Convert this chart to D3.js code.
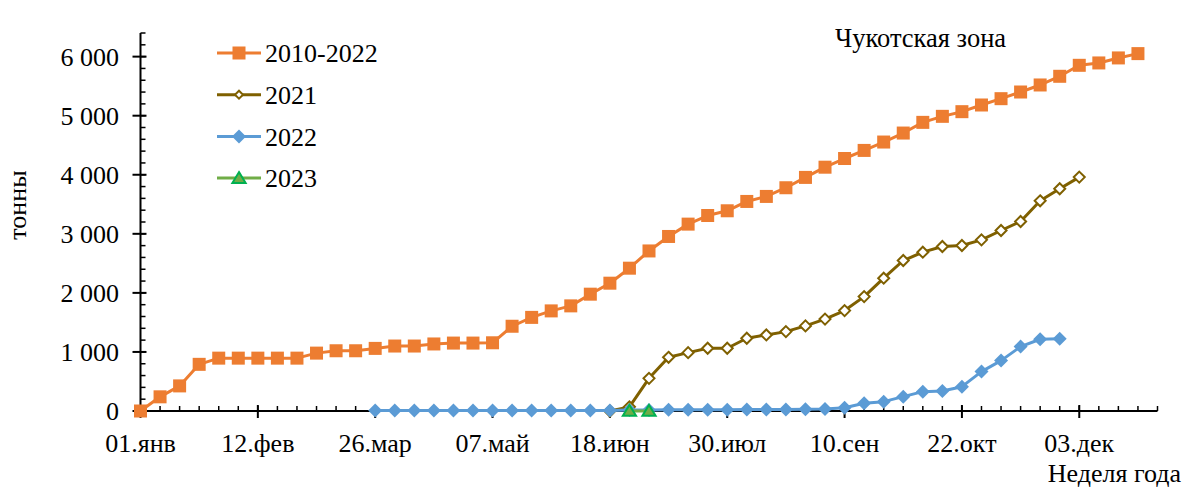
<!DOCTYPE html>
<html>
<head>
<meta charset="utf-8">
<script src="https://cdn.jsdelivr.net/npm/d3@7"></script>
<style>
  body { margin: 0; background: #fff; }
  svg { display: block; font-family: "Liberation Serif", "Times New Roman", serif; }
</style>
</head>
<body>
<div class="chart"></div>
<script>
// week labels under major ticks (every 6 weeks)
const tickLabels = ["01.янв", "12.фев", "26.мар", "07.май", "18.июн", "30.июл", "10.сен", "22.окт", "03.дек"];

// 2010-2022 average, weeks 0..51
const avg = [0, 240, 425, 790, 895, 895, 895, 895, 895, 980, 1020, 1020, 1060, 1100, 1100, 1135, 1150, 1150, 1155,
  1435, 1585, 1695, 1780, 1978, 2164, 2418, 2710, 2955, 3164, 3310, 3390, 3548, 3633, 3780, 3955, 4128, 4275,
  4412, 4554, 4706, 4887, 4989, 5068, 5181, 5288, 5401, 5520, 5667, 5853, 5893, 5978, 6051];

// 2021, starting at week 24
const start2021 = 24;
const y2021 = [0, 70, 553, 909, 988, 1062, 1062, 1232, 1288, 1344, 1441, 1556, 1700, 1937, 2249, 2548, 2689,
  2785, 2802, 2898, 3056, 3209, 3559, 3763, 3960];

// 2022, starting at week 12
const start2022 = 12;
const y2022 = [10, 10, 10, 10, 10, 10, 10, 10, 10, 10, 10, 10, 10, 15, 15, 20, 20, 20, 20, 25, 25, 25, 30, 34,
  56, 130, 158, 243, 328, 339, 412, 667, 853, 1090, 1215, 1225];

// 2023, starting at week 25
const start2023 = 25;
const y2023 = [0, 0];

const W = 1188, H = 489;

const svg = d3.select(".chart").append("svg")
    .attr("width", W)
    .attr("height", H);

const x = d3.scaleLinear().domain([0, 52]).range([140.5, 1157.5]);
const y = d3.scaleLinear().domain([0, 6400]).range([411, 33]);

const fmt = d3.formatLocale({decimal: ",", thousands: " ", grouping: [3], currency: ["", ""]}).format(",.0f");

// y axis: minor ticks inward, major ticks crossing
const gy = svg.append("g");
gy.append("line").attr("x1", x(0)).attr("x2", x(0)).attr("y1", y(0)).attr("y2", y(6400))
    .attr("stroke", "#000").attr("stroke-width", 2);
gy.selectAll(".minor").data(d3.range(200, 6401, 200)).join("line")
    .attr("x1", x(0)).attr("x2", x(0) + 5).attr("y1", d => y(d)).attr("y2", d => y(d))
    .attr("stroke", "#000").attr("stroke-width", 1.5);
gy.selectAll(".major").data(d3.range(0, 6001, 1000)).join("line")
    .attr("x1", x(0) - 8).attr("x2", x(0) + 6).attr("y1", d => y(d)).attr("y2", d => y(d))
    .attr("stroke", "#000").attr("stroke-width", 2);
gy.selectAll("text").data(d3.range(0, 6001, 1000)).join("text")
    .attr("x", 119).attr("y", d => y(d)).attr("dy", "0.35em")
    .attr("text-anchor", "end").attr("font-size", 26).text(d => fmt(d));

// x axis
const gx = svg.append("g");
gx.append("line").attr("x1", x(0)).attr("x2", x(52)).attr("y1", y(0)).attr("y2", y(0))
    .attr("stroke", "#000").attr("stroke-width", 2);
gx.selectAll(".minor").data(d3.range(1, 53)).join("line")
    .attr("x1", d => x(d)).attr("x2", d => x(d)).attr("y1", y(0)).attr("y2", y(0) - 5)
    .attr("stroke", "#000").attr("stroke-width", 1.5);
gx.selectAll(".major").data(d3.range(0, 49, 6)).join("line")
    .attr("x1", d => x(d)).attr("x2", d => x(d)).attr("y1", y(0) - 6).attr("y2", y(0) + 7)
    .attr("stroke", "#000").attr("stroke-width", 2);
gx.selectAll("text").data(tickLabels).join("text")
    .attr("x", (d, i) => x(i * 6)).attr("y", 452)
    .attr("text-anchor", "middle").attr("font-size", 26).text(d => d);

svg.append("text").attr("x", 1181).attr("y", 482).attr("text-anchor", "end")
    .attr("font-size", 26).text("Неделя года");
svg.append("text").attr("transform", "translate(26,205) rotate(-90)").attr("text-anchor", "middle")
    .attr("font-size", 26).text("тонны");
svg.append("text").attr("x", 835).attr("y", 47).attr("font-size", 26.5).text("Чукотская зона");

const line = d3.line().x(d => x(d[0])).y(d => y(d[1]));
const toPts = (arr, start) => arr.map((v, i) => [start + i, v]);

const diamond = s => `M0,${-s}L${s},0L0,${s}L${-s},0Z`;
const tri = s => `M0,${-s}L${s * 1.1},${s * 0.8}L${-s * 1.1},${s * 0.8}Z`;

const series = [
  {name: "2010-2022", pts: toPts(avg, 0), color: "#ED7D31", mark: "square"},
  {name: "2021", pts: toPts(y2021, start2021), color: "#7F6000", mark: "hollow"},
  {name: "2022", pts: toPts(y2022, start2022), color: "#5B9BD5", mark: "diamond"},
  {name: "2023", pts: toPts(y2023, start2023), color: "#70AD47", mark: "tri"}
];

function drawMarker(g, s, small) {
  if (s.mark === "square") {
    g.append("rect").attr("x", -6.5).attr("y", -6.5).attr("width", 13).attr("height", 13).attr("fill", s.color);
  } else if (s.mark === "hollow") {
    g.append("path").attr("d", diamond(small ? 4 : 5.5)).attr("fill", "#fff").attr("stroke", s.color).attr("stroke-width", 2);
  } else if (s.mark === "diamond") {
    g.append("path").attr("d", diamond(7)).attr("fill", s.color);
  } else {
    g.append("path").attr("d", tri(6)).attr("fill", "#70AD47").attr("stroke", "#00B050").attr("stroke-width", 2);
  }
}

series.forEach(s => {
  svg.append("path").datum(s.pts).attr("d", line)
      .attr("fill", "none").attr("stroke", s.color).attr("stroke-width", 3).attr("stroke-linejoin", "round");
  s.pts.forEach(p => {
    const g = svg.append("g").attr("transform", `translate(${x(p[0])},${y(p[1])})`);
    drawMarker(g, s, false);
  });
});

// legend
const leg = svg.append("g");
series.forEach((s, i) => {
  const ly = 53 + i * 41.7;
  leg.append("line").attr("x1", 217).attr("x2", 261).attr("y1", ly).attr("y2", ly)
      .attr("stroke", s.color).attr("stroke-width", 3);
  const g = leg.append("g").attr("transform", `translate(239,${ly})`);
  drawMarker(g, s, true);
  leg.append("text").attr("x", 265).attr("y", ly).attr("dy", "0.35em").attr("font-size", 26).text(s.name);
});
</script>
</body>
</html>
